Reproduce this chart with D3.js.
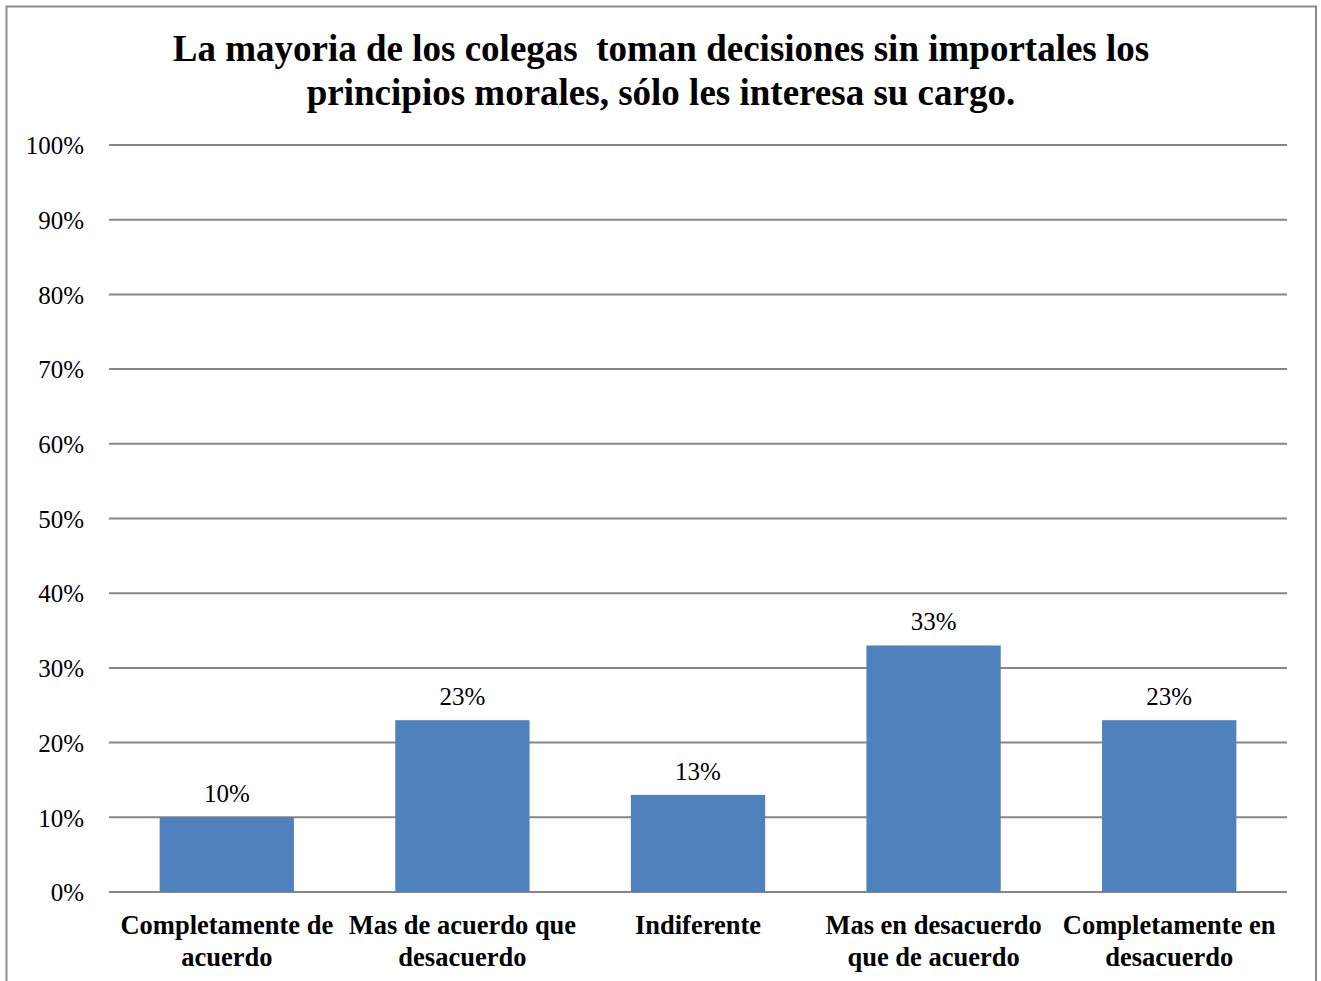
<!DOCTYPE html>
<html><head><meta charset="utf-8">
<script src="https://cdn.jsdelivr.net/npm/d3@7"></script>
<style>body{margin:0;background:#fff}svg{display:block}text{font-family:"Liberation Serif","Times New Roman",serif}</style>
</head><body>
<svg id="c" width="1321" height="981"></svg>
<script>
const categories = [["Completamente de","acuerdo"],["Mas de acuerdo que","desacuerdo"],["Indiferente"],["Mas en desacuerdo","que de acuerdo"],["Completamente en","desacuerdo"]];
const values = [0.10, 0.23, 0.13, 0.33, 0.23];
const valueLabels = ["10%","23%","13%","33%","23%"];
const tickValues = [0,0.1,0.2,0.3,0.4,0.5,0.6,0.7,0.8,0.9,1.0];
const titleLines = ["La mayoria de los colegas  toman decisiones sin importales los","principios morales, sólo les interesa su cargo."];

const svg = d3.select("#c");
svg.append("rect").attr("x",6.5).attr("y",6.5).attr("width",1309.5).attr("height",990).attr("fill","#fff").attr("stroke","#8c8c8c").attr("stroke-width",2);

const x = d3.scaleBand().domain(d3.range(values.length)).range([109,1287]).paddingInner(0.43).paddingOuter(0.215);
const y = d3.scaleLinear().domain([0,1]).range([892,145]);

const grid = svg.append("g");
grid.selectAll("line").data(tickValues).join("line")
  .attr("x1",109).attr("x2",1287).attr("y1",d=>y(d)).attr("y2",d=>y(d))
  .attr("stroke","#868686").attr("stroke-width",2);

const yAxis = d3.axisLeft(y).tickValues(tickValues).tickFormat(d3.format(".0%")).tickSize(0).tickPadding(0);
const ya = svg.append("g").attr("transform","translate(84,0)").call(yAxis);
ya.select(".domain").remove();
ya.selectAll("text").attr("font-size",25).attr("fill","#000").attr("dy","0.35em").style("font-family","'Liberation Serif',serif");

svg.append("g").selectAll("rect").data(values).join("rect")
  .attr("x",(d,i)=>x(i)).attr("width",x.bandwidth())
  .attr("y",d=>y(d)).attr("height",d=>y(0)-y(d)).attr("fill","#4F81BD");

svg.append("g").selectAll("text").data(values).join("text")
  .attr("x",(d,i)=>x(i)+x.bandwidth()/2).attr("y",d=>y(d)-15)
  .attr("text-anchor","middle").attr("font-size",25).attr("fill","#000")
  .text((d,i)=>valueLabels[i]);

const cl = svg.append("g").selectAll("text").data(categories).join("text")
  .attr("x",(d,i)=>x(i)+x.bandwidth()/2).attr("y",934)
  .attr("text-anchor","middle").attr("font-size",26.5).attr("font-weight","bold").attr("fill","#000");
cl.selectAll("tspan").data((d,i)=>d.map(s=>({s,i}))).join("tspan")
  .attr("x",d=>x(d.i)+x.bandwidth()/2).attr("dy",(d,j)=>j===0?0:32).text(d=>d.s);

svg.append("g").selectAll("text").data(titleLines).join("text")
  .attr("x",661).attr("y",(d,i)=>61+i*44).attr("text-anchor","middle")
  .attr("font-size",37).attr("font-weight","bold").attr("fill","#000")
  .style("white-space","pre").text(d=>d);
</script>
</body></html>
